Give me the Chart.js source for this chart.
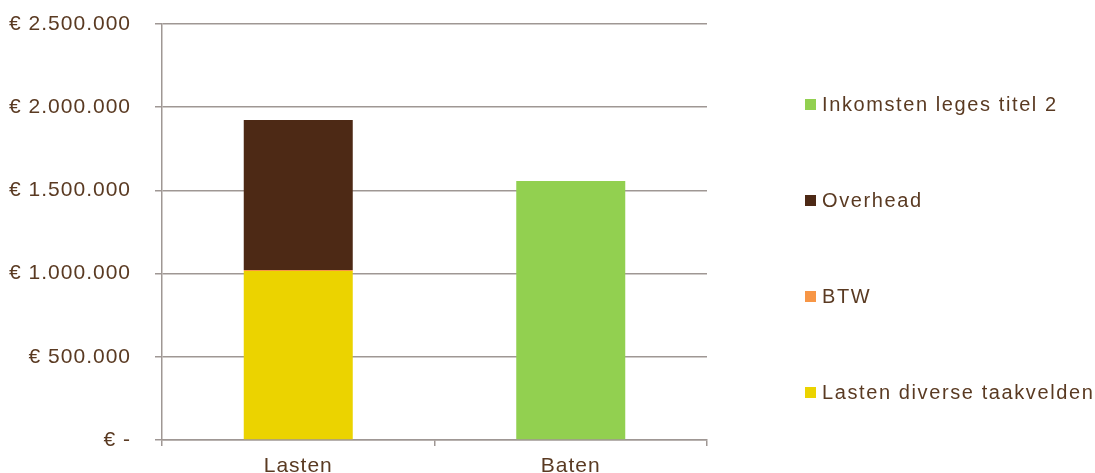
<!DOCTYPE html>
<html>
<head>
<meta charset="utf-8">
<script src="https://cdn.jsdelivr.net/npm/chart.js@4"></script>
<style>
  html, body { margin: 0; padding: 0; background: #fff; }
  #wrap { width: 1095px; height: 473px; position: relative; }
</style>
</head>
<body>
<div id="wrap"><canvas id="mainChart"></canvas></div>
<script>
const categories = ["Lasten", "Baten"];
const lastenDiverse = [1015000, 0];
const btw = [6000, 0];
const overhead = [902000, 0];
const inkomstenLeges = [0, 1557000];
const seriesNames = ["Lasten diverse taakvelden", "BTW", "Overhead", "Inkomsten leges titel 2"];
const seriesColors = ["#ebd300", "#f79646", "#4d2915", "#92d050"];

const textColor = "#5a3a22";
const gridColor = "#9f9794";

function euro(v) {
    if (v === 0) return "€ -";
    return "€ " + v.toString().replace(/\B(?=(\d{3})+(?!\d))/g, ".");
}

// legend drawn on the right, reversed order like the original
const sideLegend = {
    id: "sideLegend",
    beforeDraw(chart) {
        chart.ctx.letterSpacing = "1px";
    },
    afterDraw(chart) {
        const ctx = chart.ctx;
        const items = chart.data.datasets.slice().reverse();
        ctx.save();
        ctx.letterSpacing = "1.6px";
        ctx.font = "20px 'Liberation Sans', Arial, sans-serif";
        ctx.textBaseline = "middle";
        ctx.textAlign = "left";
        items.forEach((ds, i) => {
            const y = 104 + i * 96;
            ctx.fillStyle = ds.backgroundColor;
            ctx.fillRect(805, y - 5, 11, 11);
            ctx.fillStyle = textColor;
            ctx.fillText(ds.label, 822, y + 1);
        });
        ctx.restore();
    }
};

const ctx = document.getElementById("mainChart").getContext("2d");
new Chart(ctx, {
    type: "bar",
    data: {
        labels: categories,
        datasets: [
            { label: seriesNames[0], data: lastenDiverse, backgroundColor: seriesColors[0] },
            { label: seriesNames[1], data: btw, backgroundColor: seriesColors[1] },
            { label: seriesNames[2], data: overhead, backgroundColor: seriesColors[2] },
            { label: seriesNames[3], data: inkomstenLeges, backgroundColor: seriesColors[3] }
        ]
    },
    options: {
        responsive: true,
        maintainAspectRatio: false,
        animation: false,
        barPercentage: 0.4,
        categoryPercentage: 1,
        layout: { padding: { top: 24, right: 388, bottom: 0, left: 0 } },
        plugins: {
            legend: { display: false },
            tooltip: { enabled: false }
        },
        scales: {
            x: {
                stacked: true,
                afterFit: s => { s.height = 33; },
                grid: { drawOnChartArea: false, drawTicks: true, tickLength: 6, color: gridColor, lineWidth: 1.5 },
                border: { color: gridColor, width: 1.5 },
                ticks: { color: textColor, padding: 8, font: { family: "'Liberation Sans', Arial, sans-serif", size: 21 } }
            },
            y: {
                stacked: true,
                min: 0,
                max: 2500000,
                afterFit: s => { s.width = 162; s.paddingTop = 0; s.paddingBottom = 0; },
                grid: { color: gridColor, lineWidth: 1.5, tickLength: 7 },
                border: { color: gridColor, width: 1.5 },
                ticks: {
                    stepSize: 500000,
                    color: textColor,
                    padding: 24,
                    font: { family: "'Liberation Sans', Arial, sans-serif", size: 21 },
                    callback: v => euro(v)
                }
            }
        }
    },
    plugins: [sideLegend]
});
</script>
</body>
</html>
